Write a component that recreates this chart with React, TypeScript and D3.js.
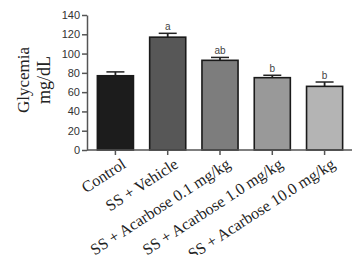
import React, { useEffect, useRef } from 'react';
import * as d3 from 'd3';

const groups = ['Control', 'SS + Vehicle', 'SS + Acarbose 0.1 mg/kg', 'SS + Acarbose 1.0 mg/kg', 'SS + Acarbose 10.0 mg/kg'];
const means = [77, 117, 93, 75, 66];
const errors = [4, 4, 3, 2.5, 4.5];
const letters = ['', 'a', 'ab', 'b', 'b'];
const fills = ['#1c1c1c', '#575757', '#7d7d7d', '#999999', '#b4b4b4'];
const yTicks = [0, 20, 40, 60, 80, 100, 120, 140];

const App = () => {
  const ref = useRef<SVGSVGElement>(null);

  useEffect(() => {
    const svg = d3.select(ref.current);
    svg.selectAll('*').remove();

    const margin = { top: 15, right: 3, bottom: 105, left: 87 };
    const width = 355;
    const height = 255;

    const x = d3.scaleBand<string>()
      .domain(groups)
      .range([margin.left + 2, width - margin.right - 1])
      .paddingInner(0.31)
      .paddingOuter(0.16);

    const y = d3.scaleLinear()
      .domain([0, 140])
      .range([height - margin.bottom, margin.top]);

    const axisColor = '#555';

    // y axis
    const yAxis = svg.append('g')
      .attr('transform', `translate(${margin.left},0)`)
      .call(d3.axisLeft(y).tickValues(yTicks).tickSize(5).tickPadding(2).tickSizeOuter(0));
    yAxis.select('.domain').attr('stroke', axisColor).attr('stroke-width', 1.5);
    yAxis.selectAll('.tick line').attr('stroke', axisColor).attr('stroke-width', 1.5);
    yAxis.selectAll('.tick text')
      .attr('fill', '#333')
      .style('font-family', 'Liberation Sans, Arial, sans-serif')
      .style('font-size', '11px');

    // bars
    const bw = x.bandwidth();
    const g = svg.append('g');
    groups.forEach((name, i) => {
      const cx = (x(name) as number) + bw / 2;
      const top = y(means[i]);
      const errTop = y(means[i] + errors[i]);
      g.append('line')
        .attr('x1', cx).attr('x2', cx)
        .attr('y1', top).attr('y2', errTop)
        .attr('stroke', '#222').attr('stroke-width', 1.8);
      g.append('line')
        .attr('x1', cx - 9).attr('x2', cx + 9)
        .attr('y1', errTop).attr('y2', errTop)
        .attr('stroke', '#222').attr('stroke-width', 1.5);
      g.append('rect')
        .attr('x', x(name) as number)
        .attr('y', top)
        .attr('width', bw)
        .attr('height', y(0) - top)
        .attr('fill', fills[i])
        .attr('stroke', '#1a1a1a')
        .attr('stroke-width', 1.6);
      if (letters[i]) {
        g.append('text')
          .attr('x', cx)
          .attr('y', errTop - 3)
          .attr('text-anchor', 'middle')
          .attr('fill', '#444')
          .style('font-family', 'Liberation Sans, Arial, sans-serif')
          .style('font-size', '10px')
          .text(letters[i]);
      }
    });

    // x axis
    const xAxis = svg.append('g')
      .attr('transform', `translate(0,${y(0)})`)
      .call(d3.axisBottom(x).tickSize(5).tickSizeOuter(0).tickPadding(3));
    xAxis.select('.domain')
      .attr('d', `M${margin.left},0H${width - margin.right}`)
      .attr('stroke', axisColor).attr('stroke-width', 1.5);
    xAxis.selectAll('.tick line').attr('stroke', axisColor).attr('stroke-width', 1.5);
    xAxis.selectAll('.tick text')
      .attr('fill', '#222')
      .attr('text-anchor', 'end')
      .attr('dy', '0.6em')
      .attr('transform', 'translate(2,2) rotate(-33)')
      .style('font-family', 'Liberation Serif, Times New Roman, serif')
      .style('font-size', '16px');

    // y label
    const label = svg.append('g')
      .style('font-family', 'Liberation Serif, Times New Roman, serif')
      .style('font-size', '17px')
      .attr('fill', '#222');
    label.append('text')
      .attr('transform', 'translate(29,80) rotate(-90)')
      .attr('text-anchor', 'middle')
      .text('Glycemia');
    label.append('text')
      .attr('transform', 'translate(50,80) rotate(-90)')
      .attr('text-anchor', 'middle')
      .style('font-size', '18px')
      .text('mg/dL');
  }, []);

  return (
    <div style={{ position: 'absolute', left: 0, top: 0 }}>
      <svg ref={ref} width={355} height={255} style={{ display: 'block', background: '#fff' }} />
    </div>
  );
};

export default App;
